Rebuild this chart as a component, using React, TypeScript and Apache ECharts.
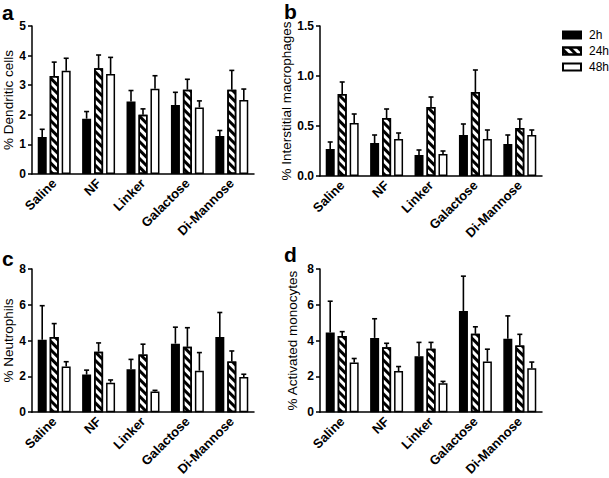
import React, { useEffect, useRef } from "react";
import * as echarts from "echarts";

const categories = ["Saline", "NF", "Linker", "Galactose", "Di-Mannose"];
const timepoints = ["2h", "24h", "48h"];

// Panel a: % Dendritic cells
const dcMean = [
  [1.25, 1.87, 2.45, 2.33, 1.28],
  [3.31, 3.57, 2.0, 2.85, 2.85],
  [3.49, 3.38, 2.88, 2.25, 2.5],
];
const dcErr = [
  [0.26, 0.24, 0.37, 0.43, 0.19],
  [0.47, 0.45, 0.2, 0.35, 0.65],
  [0.42, 0.56, 0.44, 0.22, 0.37],
];
// Panel b: % Interstitial macrophages
const imMean = [
  [0.27, 0.33, 0.21, 0.41, 0.32],
  [0.82, 0.58, 0.69, 0.84, 0.48],
  [0.53, 0.37, 0.22, 0.37, 0.41],
];
const imErr = [
  [0.07, 0.08, 0.05, 0.11, 0.09],
  [0.12, 0.09, 0.1, 0.22, 0.09],
  [0.09, 0.06, 0.03, 0.09, 0.05],
];
// Panel c: % Neutrophils
const neMean = [
  [4.05, 2.1, 2.4, 3.83, 4.2],
  [4.2, 3.38, 3.22, 3.65, 2.83],
  [2.55, 1.65, 1.15, 2.32, 1.97],
];
const neErr = [
  [1.9, 0.25, 0.55, 0.92, 1.37],
  [0.75, 0.49, 0.58, 1.07, 0.59],
  [0.27, 0.15, 0.07, 1.01, 0.15],
];
// Panel d: % Activated monocytes
const amMean = [
  [4.45, 4.15, 3.13, 5.65, 4.1],
  [4.25, 3.63, 3.55, 4.38, 3.72],
  [2.78, 2.3, 1.62, 2.83, 2.45],
];
const amErr = [
  [1.75, 1.07, 0.77, 1.95, 1.28],
  [0.25, 0.22, 0.35, 0.39, 0.63],
  [0.22, 0.25, 0.1, 0.69, 0.35],
];

const yNames = [
  "% Dendritic cells",
  "% Interstitial macrophages",
  "% Neutrophils",
  "% Activated monocytes",
];
const yMax = [5, 1.5, 8, 8];
const yInterval = [1, 0.5, 2, 2];
const panelLetters = ["a", "b", "c", "d"];

const FONT = "Liberation Sans, Arial, Helvetica, sans-serif";
const BAR_W = 9;
const BAR_STEP = 12;

export default function App() {
  const ref = useRef<HTMLDivElement>(null);
  useEffect(() => {
    if (!ref.current) return;
    const chart = echarts.init(ref.current, null, { renderer: "svg" });
    const means = [dcMean, imMean, neMean, amMean];
    const errs = [dcErr, imErr, neErr, amErr];
    const grids = [
      { left: 32, top: 26, width: 222, height: 148 },
      { left: 320, top: 26, width: 222, height: 150 },
      { left: 32, top: 269, width: 222, height: 150 },
      { left: 320, top: 269, width: 222, height: 150 },
    ];
    const nameGaps = [14, 23, 13, 21];

    const hatch = {
      symbol: "rect",
      symbolSize: 1,
      dashArrayX: [1, 0],
      dashArrayY: [2.2, 2.2],
      rotation: Math.PI / 4,
      color: "#000",
      backgroundColor: "#fff",
    };

    const itemStyles = [
      { color: "#000", borderColor: "#000", borderWidth: 1.5 },
      { color: "#fff", borderColor: "#000", borderWidth: 1.5, decal: hatch },
      { color: "#fff", borderColor: "#000", borderWidth: 1.5 },
    ];

    const xAxis: any[] = [];
    const yAxis: any[] = [];
    const series: any[] = [];
    for (let p = 0; p < 4; p++) {
      xAxis.push({
        type: "category",
        gridIndex: p,
        data: categories,
        axisLine: { lineStyle: { color: "#000", width: 1.5 } },
        axisTick: { alignWithLabel: true, length: 4, lineStyle: { color: "#000", width: 1.5 } },
        axisLabel: {
          rotate: 45,
          margin: 7,
          color: "#000",
          fontWeight: "bold",
          fontSize: 13,
          fontFamily: FONT,
        },
      });
      yAxis.push({
        type: "value",
        gridIndex: p,
        min: 0,
        max: yMax[p],
        interval: yInterval[p],
        name: yNames[p],
        nameLocation: "middle",
        nameGap: nameGaps[p],
        nameTextStyle: { color: "#000", fontSize: 13.5, fontFamily: FONT },
        axisLine: { show: true, lineStyle: { color: "#000", width: 1.5 } },
        axisTick: { show: true, length: 4, lineStyle: { color: "#000", width: 1.5 } },
        splitLine: { show: false },
        axisLabel: {
          margin: 6,
          color: "#000",
          fontWeight: "bold",
          fontSize: 12,
          fontFamily: FONT,
          formatter: (v: number) => (p === 1 ? v.toFixed(1) : String(v)),
        },
      });
      for (let t = 0; t < 3; t++) {
        series.push({
          type: "bar",
          name: timepoints[t],
          xAxisIndex: p,
          yAxisIndex: p,
          data: means[p][t],
          barWidth: BAR_W,
          barGap: "33%",
          itemStyle: itemStyles[t],
          emphasis: { disabled: true },
        });
      }
      for (let t = 0; t < 3; t++) {
        const offset = (t - 1) * BAR_STEP;
        series.push({
          type: "custom",
          name: "err" + p + t,
          xAxisIndex: p,
          yAxisIndex: p,
          data: means[p][t].map((v, i) => [i, v, errs[p][t][i]]),
          encode: { x: 0, y: 1 },
          z: 3,
          renderItem: (params: any, api: any) => {
            const i = api.value(0);
            const v = api.value(1);
            const e = api.value(2);
            const base = api.coord([i, v]);
            const top = api.coord([i, v + e]);
            const x = base[0] + offset;
            const st = { stroke: "#000", lineWidth: 1.6 };
            return {
              type: "group",
              children: [
                { type: "line", shape: { x1: x, y1: base[1], x2: x, y2: top[1] }, style: st },
                { type: "line", shape: { x1: x - 2.5, y1: top[1], x2: x + 2.5, y2: top[1] }, style: st },
              ],
            };
          },
        });
      }
    }

    const letterPos = [
      [2, 2],
      [284, 1],
      [2, 248],
      [284, 244],
    ];

    chart.setOption({
      animation: false,
      backgroundColor: "#fff",
      grid: grids,
      xAxis,
      yAxis,
      series,
      legend: {
        data: timepoints,
        orient: "vertical",
        left: 557,
        top: 24,
        icon: "rect",
        itemWidth: 18,
        itemHeight: 7,
        itemGap: 4,
        textStyle: { color: "#000", fontSize: 12, fontFamily: FONT, padding: [0, 0, 0, 3] },
        selectedMode: false,
      },
      graphic: panelLetters.map((l, i) => ({
        type: "text",
        left: letterPos[i][0],
        top: letterPos[i][1],
        style: { text: l, fontSize: 21, fontWeight: "bold", fontFamily: FONT, fill: "#000" },
      })),
    });
    return () => chart.dispose();
  }, []);
  return (
    <div
      ref={ref}
      style={{ position: "fixed", left: 0, top: 0, width: 609, height: 478 }}
    />
  );
}
